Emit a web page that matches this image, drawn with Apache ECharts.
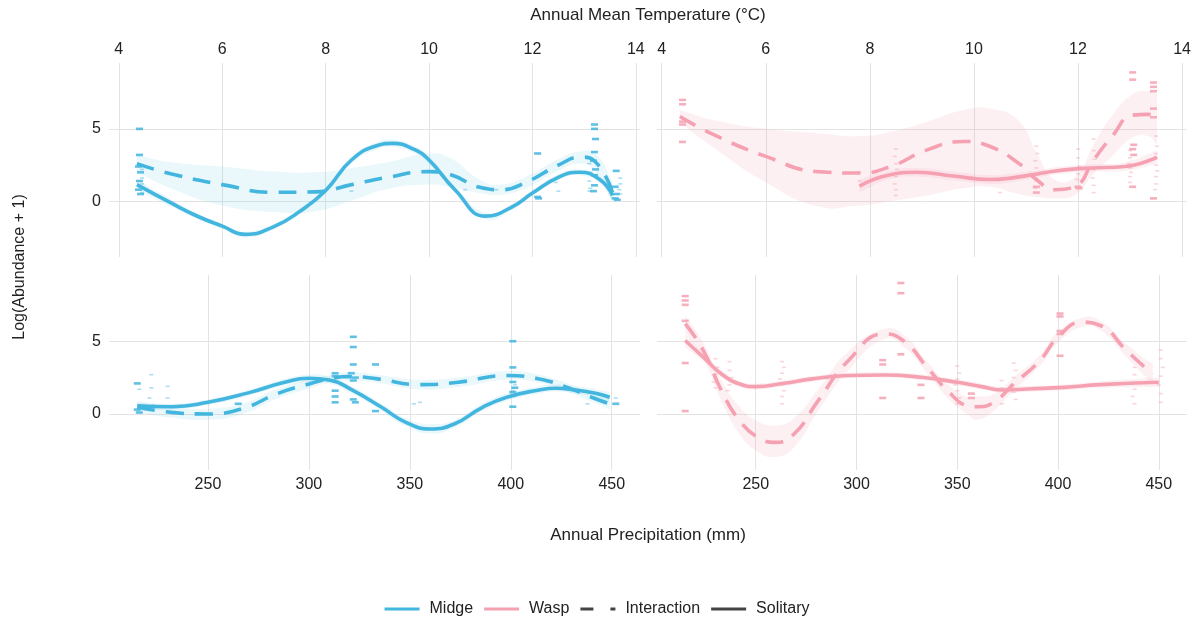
<!DOCTYPE html>
<html><head><meta charset="utf-8">
<script src="https://cdn.jsdelivr.net/npm/echarts@6/dist/echarts.min.js"></script>
<style>html,body{margin:0;padding:0;background:#fff}#c{width:1194px;height:620px}</style>
</head><body><div id="c"></div>
<script>
// ---------- Axis ranges ----------
const tempRangeL = [3.81, 14.08];
const tempRangeR = [3.91, 14.08];
const precRange = [201, 464];
const yRange = [-3.85, 9.55];

// ---------- Top-left: Midge vs temperature ----------
const tMidgeSolX = [4.35, 5.0, 5.5, 6.0, 6.45, 7.0, 7.5, 8.0, 8.5, 9.0, 9.3, 9.7, 10.0, 10.5, 11.1, 11.6, 12.0, 12.5, 12.9, 13.3, 13.55];
const tMidgeSolY = [1.15, -0.1, -1.0, -1.72, -2.29, -1.75, -0.7, 0.75, 2.85, 3.85, 4.0, 3.6, 2.85, 0.8, -1.03, -0.4, 0.57, 1.65, 2.0, 1.5, 0.4];
const tMidgeSolLo = [0.8, -0.35, -1.2, -1.9, -2.5, -1.95, -0.9, 0.55, 2.6, 3.6, 3.75, 3.35, 2.6, 0.6, -1.25, -0.6, 0.4, 1.45, 1.8, 1.25, 0.05];
const tMidgeSolHi = [1.5, 0.15, -0.8, -1.55, -2.1, -1.55, -0.5, 0.95, 3.1, 4.1, 4.25, 3.85, 3.1, 1.0, -0.8, -0.2, 0.75, 1.85, 2.2, 1.75, 0.75];

const tMidgeIntX = [4.35, 5.0, 6.0, 7.0, 7.8, 8.5, 9.2, 10.0, 10.4, 11.0, 11.4, 11.9, 12.5, 12.95, 13.25, 13.55];
const tMidgeIntY = [2.6, 1.9, 1.15, 0.62, 0.65, 1.15, 1.65, 2.05, 1.85, 0.95, 0.8, 1.35, 2.5, 3.05, 2.6, 0.6];
const tMidgeIntLo = [2.0, 0.9, -0.3, -0.75, -0.7, 0.05, 0.85, 1.15, 1.0, 0.55, 0.45, 0.95, 2.1, 2.6, 1.9, -0.1];
const tMidgeIntHi = [3.2, 2.7, 2.4, 2.05, 2.0, 2.3, 2.7, 3.3, 3.0, 1.45, 1.15, 1.75, 2.9, 3.45, 3.2, 1.3];

const tMidgePtsInt = [[4.4,5.0],[4.4,3.2],[4.38,2.4],[4.42,2.0],[4.4,1.4],[4.38,0.8],[4.42,0.5],[12.1,3.3],[12.1,0.3],[12.12,0.2],
  [13.2,5.3],[13.2,5.0],[13.22,4.3],[13.2,3.4],[13.18,2.8],[13.22,2.2],[13.2,1.8],[13.2,1.1],[13.18,0.7],
  [13.62,2.1],[13.6,1.0],[13.62,0.5],[13.6,0.2],[13.64,0.1]];
const tMidgePtsSol = [[4.45,2.2],[4.45,1.6],[4.45,1.2],[4.45,0.6],[8.5,0.7],[10.7,0.8],[11.3,0.8],[12.5,0.7],[12.45,1.3],
  [13.1,2.6],[13.12,2.0],[13.1,1.4],[13.12,0.9],[13.1,0.7],[13.7,1.6],[13.7,1.2],[13.68,0.8],[13.7,0.5]];

// ---------- Top-right: Wasp vs temperature ----------
const tWaspIntX = [4.35, 5.0, 6.0, 7.0, 7.8, 8.4, 9.1, 9.8, 10.3, 10.85, 11.2, 11.55, 11.95, 12.3, 12.65, 13.05, 13.35, 13.52];
const tWaspIntY = [5.85, 4.6, 3.1, 2.05, 1.95, 2.4, 3.55, 4.13, 3.8, 2.65, 1.5, 0.8, 1.05, 2.85, 4.45, 5.95, 6.0, 5.65];
const tWaspIntLo = [5.4, 3.7, 1.3, -0.35, -0.3, 0.0, 0.4, 0.9, 1.0, 0.5, 0.3, 0.2, 0.45, 1.9, 3.1, 4.4, 4.5, 3.9];
const tWaspIntHi = [6.3, 5.6, 5.0, 4.7, 4.5, 4.8, 5.5, 6.3, 6.4, 5.6, 3.4, 1.5, 1.7, 3.9, 5.9, 7.4, 7.6, 7.4];

const tWaspSolX = [7.8, 8.35, 8.9, 9.6, 10.3, 10.7, 11.15, 11.7, 12.25, 12.9, 13.52];
const tWaspSolY = [1.05, 1.8, 2.0, 1.75, 1.5, 1.6, 1.85, 2.15, 2.3, 2.4, 3.05];
const tWaspSolLo = [0.6, 1.5, 1.7, 1.45, 1.2, 1.3, 1.6, 1.9, 2.05, 2.1, 2.6];
const tWaspSolHi = [1.5, 2.1, 2.3, 2.05, 1.8, 1.9, 2.1, 2.4, 2.55, 2.7, 3.5];

const tWaspPtsInt = [[4.4,7.0],[4.4,6.7],[4.4,5.5],[4.4,5.3],[4.4,4.1],[11.2,1.0],[11.2,0.6],[12.0,1.0],[12.02,0.9],
  [13.05,8.9],[13.05,8.4],[13.07,3.9],[13.05,3.6],[13.07,3.2],[13.05,1.0],[13.45,8.2],[13.45,7.9],[13.45,7.6],[13.45,6.4],[13.45,5.8],[13.45,0.2]];
const tWaspPtsSol = [[7.8,2.0],[7.8,1.4],[8.5,3.6],[8.48,3.1],[8.5,2.6],[8.52,2.2],[8.5,1.7],[8.48,1.2],[8.5,0.8],[8.5,0.4],[10.5,0.6],
  [11.2,3.8],[11.22,3.3],[11.18,2.8],[11.2,2.3],[11.22,1.8],[11.2,1.4],[11.18,0.9],[12.0,3.6],[12.0,3.0],[12.02,2.4],[12.0,1.9],[11.98,1.5],
  [12.3,4.3],[12.3,3.5],[12.32,2.9],[12.3,2.2],[12.28,1.6],[12.3,1.1],[12.3,0.6],[13.0,3.5],[13.0,3.0],[12.98,2.6],[13.0,2.3],[13.02,2.0],[13.0,1.7],[13.0,1.3],
  [13.5,4.5],[13.52,3.8],[13.5,3.3],[13.48,2.9],[13.5,2.5],[13.52,2.1],[13.5,1.7],[13.5,1.2],[13.48,0.8]];

// ---------- Bottom-left: Midge vs precipitation ----------
const pMidgeSolX = [215, 232, 250, 270, 288, 300, 310, 322, 336, 348, 360, 372, 386, 398, 414, 422, 432, 442, 449];
const pMidgeSolY = [0.57, 0.5, 0.8, 1.45, 2.18, 2.45, 2.34, 1.6, 0.46, -0.57, -1.03, -0.69, 0.46, 1.15, 1.65, 1.77, 1.65, 1.42, 1.15];
const pMidgeSolLo = [0.3, 0.3, 0.6, 1.25, 1.95, 2.2, 2.1, 1.35, 0.2, -0.85, -1.35, -0.95, 0.2, 0.9, 1.4, 1.55, 1.4, 1.15, 0.8];
const pMidgeSolHi = [0.85, 0.7, 1.0, 1.65, 2.4, 2.7, 2.58, 1.85, 0.72, -0.3, -0.7, -0.43, 0.72, 1.4, 1.9, 2.0, 1.9, 1.7, 1.5];

const pMidgeIntX = [215, 232, 250, 268, 284, 300, 310, 320, 334, 354, 374, 398, 414, 428, 440, 449];
const pMidgeIntY = [0.46, 0.11, 0.0, 0.41, 1.38, 2.06, 2.41, 2.57, 2.41, 2.02, 2.18, 2.64, 2.41, 1.83, 1.15, 0.69];
const pMidgeIntLo = [0.1, -0.25, -0.4, 0.05, 1.05, 1.75, 2.15, 2.3, 2.15, 1.7, 1.85, 2.35, 2.15, 1.55, 0.85, 0.3];
const pMidgeIntHi = [0.8, 0.45, 0.35, 0.75, 1.7, 2.35, 2.65, 2.85, 2.7, 2.35, 2.5, 2.95, 2.7, 2.1, 1.45, 1.1];

const pMidgePtsInt = [[215,2.1],[215,0.3],[216,0.1],[265,0.7],[313,2.8],[313,2.6],[313,1.6],[313,1.2],[313,0.8],
  [322,5.3],[322,4.6],[322,3.4],[321,2.8],[323,2.5],[322,2.3],[322,1.0],[323,0.8],[333,3.4],[333,0.2],
  [401,5.0],[401,3.2],[401,2.2],[402,1.8],[401,1.5],[401,0.5],[452,0.7]];
const pMidgePtsSol = [[216,1.7],[216,0.4],[222,2.7],[222,1.8],[221,1.1],[223,0.6],[230,1.9],[230,1.1],[352,0.7],[355,0.8],
  [402,2.0],[401,1.6],[402,1.2],[438,0.7],[452,1.1]];

// ---------- Bottom-right: Wasp vs precipitation ----------
const pWaspSolX = [215, 224, 233, 242, 250, 264, 278, 296, 314, 332, 350, 362, 373, 385, 403, 421, 450];
const pWaspSolY = [5.05, 3.9, 2.75, 2.06, 1.88, 2.11, 2.41, 2.64, 2.68, 2.52, 2.18, 1.88, 1.65, 1.72, 1.83, 2.02, 2.18];
const pWaspSolLo = [4.6, 3.6, 2.5, 1.85, 1.68, 1.9, 2.22, 2.45, 2.5, 2.33, 1.98, 1.68, 1.45, 1.52, 1.63, 1.8, 1.85];
const pWaspSolHi = [5.5, 4.2, 3.0, 2.27, 2.08, 2.32, 2.6, 2.83, 2.86, 2.71, 2.38, 2.08, 1.85, 1.92, 2.03, 2.24, 2.5];

const pWaspIntX = [215, 224, 233, 242, 251, 260, 269, 281, 296, 314, 324, 335, 346, 355, 360, 368, 378, 391, 400, 412, 421, 434, 443, 447];
const pWaspIntY = [6.2, 4.36, 1.6, -0.46, -1.6, -1.95, -1.38, 0.92, 3.67, 5.5, 4.95, 3.21, 1.49, 0.57, 0.5, 0.8, 2.06, 3.67, 5.28, 6.31, 6.08, 4.36, 3.21, 2.75];
const pWaspIntLo = [5.6, 3.8, 0.9, -1.4, -2.6, -2.95, -2.3, 0.2, 3.0, 5.15, 4.55, 2.8, 1.0, 0.0, -0.4, 0.2, 1.6, 3.3, 4.9, 6.0, 5.75, 3.9, 2.6, 2.0];
const pWaspIntHi = [6.8, 4.9, 2.3, 0.5, -0.5, -0.8, -0.3, 1.7, 4.3, 5.85, 5.35, 3.6, 1.95, 1.15, 1.2, 1.35, 2.5, 4.05, 5.65, 6.62, 6.4, 4.8, 3.8, 3.5];

const pWaspPtsInt = [[215,8.1],[215,7.8],[215,7.5],[215,6.4],[215,3.5],[215,0.2],[313,3.7],[313,3.4],[313,1.1],
  [322,9.0],[322,8.3],[322,4.1],[332,2.0],[332,1.1],[357,1.4],[357,1.1],[401,6.9],[401,6.7],[401,5.7],[401,5.5],[401,4.0]];
const pWaspPtsSol = [[230,3.8],[231,3.2],[230,2.7],[229,2.2],[230,1.8],[237,3.6],[237,3.0],[238,2.5],[237,2.0],[236,1.6],
  [263,3.6],[264,3.2],[263,2.8],[262,2.4],[263,2.0],[264,1.6],[263,1.2],[263,0.7],
  [350,3.3],[351,2.8],[350,2.4],[349,2.0],[350,1.6],[351,1.1],[350,0.7],[372,2.3],[372,1.8],[373,1.3],[372,0.7],
  [378,3.5],[379,3.0],[378,2.5],[377,2.0],[378,1.5],[379,1.0],[401,1.8],
  [438,3.2],[438,2.7],[439,2.2],[438,1.7],[437,1.2],[438,0.7],[451,4.4],[451,3.8],[452,3.2],[451,2.6],[450,2.0],[451,1.4],[451,0.8]];

// ---------- Texts ----------
const legendNames = ['Midge', 'Wasp', 'Interaction', 'Solitary'];
const titleTop = 'Annual Mean Temperature (°C)';
const titleBottom = 'Annual Precipitation (mm)';
const titleY = 'Log(Abundance + 1)';

// ---------- styling ----------
const BLUE = '#42B6DF', PINK = '#F5A1B2', DARK = '#444444';
const BLUE_BAND = 'rgba(66,182,223,0.11)', PINK_BAND = 'rgba(245,161,178,0.16)';
const FONT = 'Liberation Sans, Arial, Helvetica, sans-serif';
const SMOOTH = 0.5;

function zip(xs, ys) { return xs.map((x, i) => [x, ys[i]]); }

// Bezier segments between pixel points, same scheme as ECharts' line smoothing
function smoothPath(p, moveFirst) {
  let d = (moveFirst ? 'M' : 'L') + p[0][0] + ' ' + p[0][1];
  const n = p.length;
  const cps = p.map((pt, i) => {
    const prev = p[Math.max(0, i - 1)], next = p[Math.min(n - 1, i + 1)];
    const vx = next[0] - prev[0], vy = next[1] - prev[1];
    const l0 = Math.hypot(pt[0] - prev[0], pt[1] - prev[1]);
    const l1 = Math.hypot(next[0] - pt[0], next[1] - pt[1]);
    const r = (l0 + l1) ? l1 / (l0 + l1) : 0.5;
    return [[pt[0] - vx * SMOOTH * (1 - r), pt[1] - vy * SMOOTH * (1 - r)], [pt[0] + vx * SMOOTH * r, pt[1] + vy * SMOOTH * r]];
  });
  for (let i = 0; i < n - 1; i++) {
    const a = cps[i][1], b = cps[i + 1][0], q = p[i + 1];
    d += 'C' + a[0] + ' ' + a[1] + ' ' + b[0] + ' ' + b[1] + ' ' + q[0] + ' ' + q[1];
  }
  return d;
}

function ribbon(gi, xs, lo, hi, band) {
  return {
    type: 'custom', xAxisIndex: gi, yAxisIndex: gi, silent: true, z: 1, clip: true,
    data: xs.map((x, i) => [x, lo[i], hi[i]]),
    encode: { x: 0, y: [1, 2] },
    renderItem: function (params, api) {
      if (params.dataIndex !== 0) return null;
      const up = xs.map((x, i) => api.coord([x, hi[i]]));
      const dn = xs.map((x, i) => api.coord([x, lo[i]])).reverse();
      const d = smoothPath(up, true) + smoothPath(dn, false) + 'Z';
      return { type: 'path', shape: { pathData: d }, style: { fill: band, stroke: null } };
    }
  };
}
function line(gi, xs, ys, color, dashed) {
  return { type: 'line', xAxisIndex: gi, yAxisIndex: gi, smooth: SMOOTH, symbol: 'none', silent: true,
    data: zip(xs, ys), lineStyle: { color: color, width: 3.6, type: dashed ? [18, 11] : 'solid', cap: 'butt' }, z: 4 };
}
function curve(gi, xs, ys, lo, hi, color, band, dashed) {
  return [ribbon(gi, xs, lo, hi, band), line(gi, xs, ys, color, dashed)];
}
function pts(gi, data, color, big) {
  return { type: 'scatter', xAxisIndex: gi, yAxisIndex: gi, data: data, symbol: 'rect', silent: true,
    symbolSize: big ? [7, 2.6] : [4, 1.6], itemStyle: { color: color, opacity: big ? 0.85 : 0.45 }, z: 3 };
}

const grids = [
  { left: 109, top: 63, width: 531, height: 194 },
  { left: 657, top: 63, width: 530, height: 194 },
  { left: 109, top: 275, width: 531, height: 195 },
  { left: 657, top: 275, width: 530, height: 195 }
];
const splitLine = { show: true, showMinLine: false, showMaxLine: false, lineStyle: { color: '#e3e3e3', width: 1 } };
const lab = { color: '#222', fontSize: 16, fontFamily: FONT, showMinLabel: false, showMaxLabel: false };
function xAx(gi, range, pos, margin) {
  return { type: 'value', gridIndex: gi, min: range[0], max: range[1], splitNumber: 5, position: pos,
    axisLine: { show: false }, axisTick: { show: false }, splitLine: splitLine,
    axisLabel: Object.assign({}, lab, { margin: margin }) };
}
function yAx(gi, showLabel) {
  return { type: 'value', gridIndex: gi, min: yRange[0], max: yRange[1], splitNumber: 2,
    axisLine: { show: false }, axisTick: { show: false }, splitLine: splitLine,
    axisLabel: Object.assign({}, lab, { show: showLabel, margin: 8 }) };
}

const series = [].concat(
  curve(0, tMidgeIntX, tMidgeIntY, tMidgeIntLo, tMidgeIntHi, BLUE, BLUE_BAND, true),
  curve(0, tMidgeSolX, tMidgeSolY, tMidgeSolLo, tMidgeSolHi, BLUE, BLUE_BAND, false),
  [pts(0, tMidgePtsInt, BLUE, true), pts(0, tMidgePtsSol, BLUE, false)],
  curve(1, tWaspIntX, tWaspIntY, tWaspIntLo, tWaspIntHi, PINK, PINK_BAND, true),
  curve(1, tWaspSolX, tWaspSolY, tWaspSolLo, tWaspSolHi, PINK, PINK_BAND, false),
  [pts(1, tWaspPtsInt, PINK, true), pts(1, tWaspPtsSol, PINK, false)],
  curve(2, pMidgeIntX, pMidgeIntY, pMidgeIntLo, pMidgeIntHi, BLUE, BLUE_BAND, true),
  curve(2, pMidgeSolX, pMidgeSolY, pMidgeSolLo, pMidgeSolHi, BLUE, BLUE_BAND, false),
  [pts(2, pMidgePtsInt, BLUE, true), pts(2, pMidgePtsSol, BLUE, false)],
  curve(3, pWaspIntX, pWaspIntY, pWaspIntLo, pWaspIntHi, PINK, PINK_BAND, true),
  curve(3, pWaspSolX, pWaspSolY, pWaspSolLo, pWaspSolHi, PINK, PINK_BAND, false),
  [pts(3, pWaspPtsInt, PINK, true), pts(3, pWaspPtsSol, PINK, false)],
  legendNames.map((n, i) => ({ name: n, type: 'line', xAxisIndex: 0, yAxisIndex: 0, data: [],
    itemStyle: { color: [BLUE, PINK, DARK, DARK][i] }, lineStyle: { color: [BLUE, PINK, DARK, DARK][i] } }))
);

const chart = echarts.init(document.getElementById('c'), null, { renderer: 'canvas' });
chart.setOption({
  animation: false,
  backgroundColor: '#ffffff',
  grid: grids,
  xAxis: [xAx(0, tempRangeL, 'top', 5), xAx(1, tempRangeR, 'top', 5), xAx(2, precRange, 'bottom', 7), xAx(3, precRange, 'bottom', 7)],
  yAxis: [yAx(0, true), yAx(1, false), yAx(2, true), yAx(3, false)],
  legend: {
    left: 'center', top: 596, itemWidth: 35, itemHeight: 3, itemGap: 11, selectedMode: false,
    textStyle: { fontSize: 16, color: '#222', fontFamily: FONT, padding: [0, 0, 0, 5] },
    data: [
      { name: 'Midge', icon: 'rect' },
      { name: 'Wasp', icon: 'rect' },
      { name: 'Interaction', icon: 'path://M0,0h13v3h-13z M30,0h5v3h-5z' },
      { name: 'Solitary', icon: 'rect' }
    ]
  },
  graphic: [
    { type: 'text', x: 648, y: 15, style: { text: titleTop, fontSize: 17, fill: '#222', fontFamily: FONT, align: 'center', verticalAlign: 'middle' } },
    { type: 'text', x: 648, y: 535, style: { text: titleBottom, fontSize: 17, fill: '#222', fontFamily: FONT, align: 'center', verticalAlign: 'middle' } },
    { type: 'text', x: 20, y: 267, rotation: Math.PI / 2, style: { text: titleY, fontSize: 16, fill: '#222', fontFamily: FONT, align: 'center', verticalAlign: 'middle' } }
  ],
  series: series
});
</script>
</body></html>
